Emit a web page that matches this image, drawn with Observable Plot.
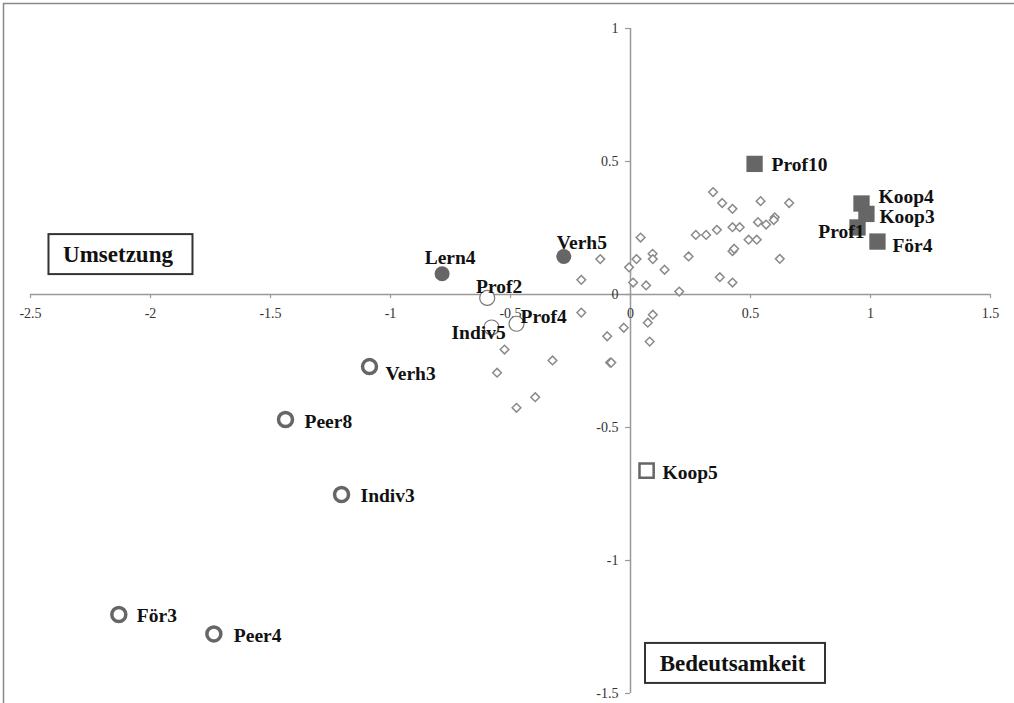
<!DOCTYPE html>
<html>
<head>
<meta charset="utf-8">
<script src="https://cdn.jsdelivr.net/npm/d3@7"></script>
<script src="https://cdn.jsdelivr.net/npm/@observablehq/plot@0.6"></script>
<style>
  html, body { margin: 0; padding: 0; background: white; }
  #chart svg { display: block; }
</style>
</head>
<body>
<div id="chart"></div>
<script>
// ---- Data ----
const xTicks = [-2.5, -2, -1.5, -1, -0.5, 0, 0.5, 1, 1.5];
const yTicks = [1, 0.5, 0, -0.5, -1, -1.5];

// other items (open diamonds)
const itemX = [0.344, 0.382, 0.425, 0.542, 0.661, 0.601, 0.597, 0.531, 0.565, 0.360, 0.425, 0.455, 0.272, 0.315, 0.492, 0.526, 0.042, 0.425, 0.432, 0.622, 0.242, 0.092, 0.093, 0.025, -0.126, -0.006, 0.142, -0.205, 0.011, 0.065, 0.372, 0.425, 0.203, -0.205, 0.093, 0.072, -0.028, -0.097, 0.080, -0.525, -0.325, -0.085, -0.080, -0.556, -0.397, -0.475];
const itemY = [0.385, 0.344, 0.322, 0.351, 0.344, 0.290, 0.280, 0.272, 0.263, 0.243, 0.253, 0.253, 0.224, 0.224, 0.206, 0.206, 0.214, 0.163, 0.172, 0.134, 0.143, 0.153, 0.133, 0.133, 0.133, 0.102, 0.093, 0.055, 0.045, 0.034, 0.065, 0.045, 0.011, -0.068, -0.076, -0.106, -0.125, -0.157, -0.177, -0.207, -0.248, -0.256, -0.256, -0.294, -0.386, -0.426];

// filled circles
const filledCircleNames = ["Lern4", "Verh5"];
const filledCircleX = [-0.785, -0.278];
const filledCircleY = [0.078, 0.143];

// thin open circles
const thinCircleNames = ["Prof2", "Prof4", "Indiv5"];
const thinCircleX = [-0.597, -0.475, -0.579];
const thinCircleY = [-0.013, -0.110, -0.124];

// thick open circles
const ringNames = ["Verh3", "Peer8", "Indiv3", "För3", "Peer4"];
const ringX = [-1.0875, -1.4375, -1.204, -2.132, -1.736];
const ringY = [-0.271, -0.470, -0.752, -1.203, -1.276];

// filled squares
const squareNames = ["Prof10", "Koop4", "Koop3", "Prof1", "För4"];
const squareX = [0.517, 0.9625, 0.983, 0.946, 1.029];
const squareY = [0.491, 0.342, 0.303, 0.252, 0.199];

// open square
const openSquareNames = ["Koop5"];
const openSquareX = [0.067];
const openSquareY = [-0.662];

// axis titles (boxed)
const axisTitleNames = ["Umsetzung", "Bedeutsamkeit"];
const axisTitleX = [-2.123, 0.4375];
const axisTitleY = [0.150, -1.387];

// ---- Build tables ----
const zipPts = (names, xs, ys) => xs.map((x, i) => ({name: names ? names[i] : null, x, y: ys[i]}));
const items = zipPts(null, itemX, itemY);
const filledCircles = zipPts(filledCircleNames, filledCircleX, filledCircleY);
const thinCircles = zipPts(thinCircleNames, thinCircleX, thinCircleY);
const rings = zipPts(ringNames, ringX, ringY);
const squares = zipPts(squareNames, squareX, squareY);
const openSquares = zipPts(openSquareNames, openSquareX, openSquareY);
const axisTitles = zipPts(axisTitleNames, axisTitleX, axisTitleY);

// label placement (style): [textAnchor, dx, dy]
const place = {
  "Prof10": ["start", 17, 1],
  "Koop4": ["start", 17, -7],
  "Koop3": ["start", 13, 3],
  "Prof1": ["end", 7, 4],
  "För4": ["start", 15, 4],
  "Lern4": ["middle", 8, -16],
  "Verh5": ["middle", 18, -14],
  "Prof2": ["middle", 12, -11],
  "Prof4": ["start", 4, -7],
  "Indiv5": ["middle", -13, 5],
  "Verh3": ["start", 16, 7],
  "Peer8": ["start", 19, 2],
  "Indiv3": ["start", 19, 1],
  "För3": ["start", 18, 1],
  "Peer4": ["start", 20, 2],
  "Koop5": ["start", 16, 2]
};
const boxHalf = {"Umsetzung": [72, 20], "Bedeutsamkeit": [90, 20]};

const W = 1014, H = 703;
const serif = "'Liberation Serif', 'Times New Roman', Times, serif";
const labeled = [...filledCircles, ...thinCircles, ...rings, ...squares, ...openSquares];

const labelMarks = labeled.map(d => {
  const [anchor, dx, dy] = place[d.name];
  return Plot.text([d], {x: "x", y: "y", text: "name", textAnchor: anchor, dx, dy,
    fontSize: 19.5, fontWeight: "bold", fontFamily: serif, fill: "#111"});
});

const boxMarks = axisTitles.flatMap(d => {
  const [hw, hh] = boxHalf[d.name];
  return [
    Plot.rect([d], {x1: "x", x2: "x", y1: "y", y2: "y",
      insetLeft: -hw, insetRight: -hw, insetTop: -hh, insetBottom: -hh,
      fill: "white", stroke: "#333", strokeWidth: 2}),
    Plot.text([d], {x: "x", y: "y", text: "name", dx: -3, fontSize: 23, fontWeight: "bold",
      fontFamily: serif, fill: "#111"})
  ];
});

const chart = Plot.plot({
  width: W,
  height: H,
  margin: 0,
  x: {domain: [-630 / 240, (W - 630) / 240], axis: null},
  y: {domain: [(294 - H) / 266, 294 / 266], axis: null},
  style: {fontFamily: serif, background: "white"},
  marks: [
    Plot.frame({stroke: "#888", strokeWidth: 1.5, insetTop: 3, insetLeft: 3, insetRight: -3, insetBottom: -3}),
    // axes
    Plot.ruleY([0], {x1: xTicks[0], x2: xTicks[xTicks.length - 1], stroke: "#999", strokeWidth: 1.5}),
    Plot.ruleX([0], {y1: yTicks[yTicks.length - 1], y2: yTicks[0], stroke: "#999", strokeWidth: 1.5}),
    Plot.ruleX(xTicks, {x: d => d, y1: 0, y2: 0, insetBottom: -4, stroke: "#999", strokeWidth: 1.2}),
    Plot.ruleY(yTicks, {y: d => d, x1: 0, x2: 0, insetLeft: -5, stroke: "#999", strokeWidth: 1.2}),
    Plot.text(xTicks, {x: d => d, y: 0, text: d => String(d), dy: 19, fontSize: 14, fill: "#333", fontFamily: serif}),
    Plot.text(yTicks, {x: 0, y: d => d, text: d => String(d), dx: -12, textAnchor: "end", fontSize: 14, fill: "#333", fontFamily: serif}),
    // items
    Plot.dot(items, {x: "x", y: "y", symbol: "diamond2", r: 3.9, stroke: "#8a8a8a", strokeWidth: 1.5, fill: "white"}),
    Plot.dot(thinCircles, {x: "x", y: "y", r: 7.5, stroke: "#777", strokeWidth: 1.2, fill: "white"}),
    Plot.dot(rings, {x: "x", y: "y", r: 7, stroke: "#666", strokeWidth: 3.5, fill: "white"}),
    Plot.dot(filledCircles, {x: "x", y: "y", r: 7.5, fill: "#666", stroke: "none"}),
    Plot.dot(squares, {x: "x", y: "y", symbol: "square", r: 9.2, fill: "#666", stroke: "none"}),
    Plot.dot(openSquares, {x: "x", y: "y", symbol: "square", r: 8, fill: "white", stroke: "#666", strokeWidth: 2.5}),
    ...labelMarks,
    ...boxMarks
  ]
});
document.getElementById("chart").append(chart);
</script>
</body>
</html>
